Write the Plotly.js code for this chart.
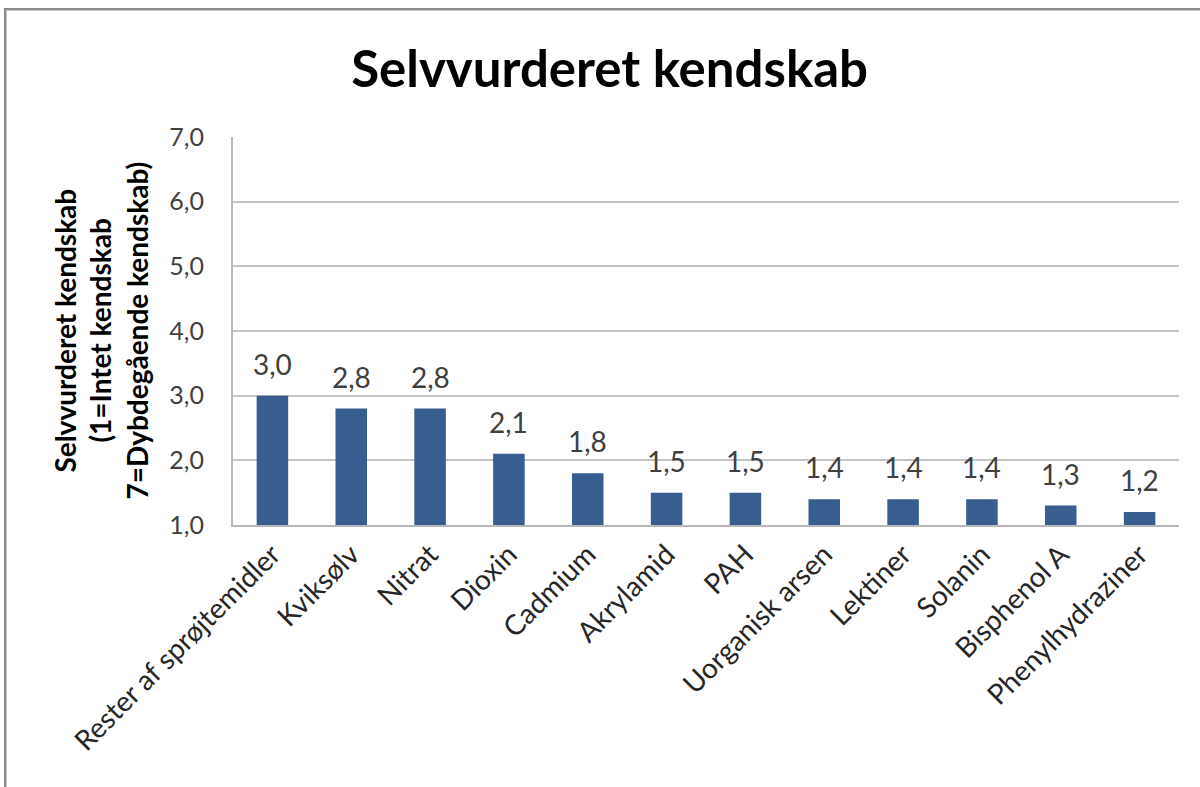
<!DOCTYPE html>
<html>
<head>
<meta charset="utf-8">
<script src="https://cdn.plot.ly/plotly-3.0.1.min.js"></script>
<style>
  html, body { margin: 0; padding: 0; background: #ffffff; }
  #wrap { position: relative; width: 1200px; height: 787px; overflow: hidden; }
  #chart { position: absolute; left: 0; top: 0; width: 1200px; height: 787px; }
  #frame { position: absolute; left: 4px; top: 8px; width: 1400px; height: 1000px;
           border-left: 2px solid #8a8a8a; border-top: 2px solid #8a8a8a;
           box-shadow: inset 1px 1px 0 #c8c8c8; pointer-events: none; }
</style>
</head>
<body>
<div id="wrap">
  <div id="chart"></div>
  <div id="frame"></div>
</div>
<script>
const categories = ["Rester af sprøjtemidler", "Kviksølv", "Nitrat", "Dioxin", "Cadmium",
  "Akrylamid", "PAH", "Uorganisk arsen", "Lektiner", "Solanin", "Bisphenol A", "Phenylhydraziner"];
const values = [3.0, 2.8, 2.8, 2.1, 1.8, 1.5, 1.5, 1.4, 1.4, 1.4, 1.3, 1.2];
const tickValues = [1, 2, 3, 4, 5, 6, 7];
const chartTitle = "Selvvurderet kendskab";
const yTitleLines = ["Selvvurderet kendskab", "(1=Intet kendskab", "7=Dybdegående kendskab)"];

const FONT = "Lato, 'Liberation Sans', Arial, sans-serif";
const barColor = "#375e8f";

const trace = {
  type: "bar",
  x: categories,
  y: values,
  marker: { color: barColor, line: { width: 0 } },
  hoverinfo: "skip"
};

const labelAnnotations = categories.map((c, i) => ({
  x: c, y: values[i], xref: "x", yref: "y",
  text: values[i].toFixed(1).replace(".", ","),
  showarrow: false, yanchor: "bottom", yshift: 13,
  font: { family: FONT, size: 28, color: "#404040" }
}));

const yTitleX = [-0.178, -0.141, -0.102];
const yTitleAnnotations = yTitleLines.map((t, i) => ({
  xref: "paper", yref: "paper", x: yTitleX[i], y: 0.5,
  xanchor: "center", yanchor: "middle", textangle: -90,
  text: "<b>" + t + "</b>", showarrow: false,
  font: { family: FONT, size: 28, color: "#000000" }
}));

const layout = {
  width: 1200, height: 787,
  paper_bgcolor: "#ffffff", plot_bgcolor: "#ffffff",
  separators: ", ",
  margin: { l: 233, r: 21, t: 137, b: 262 },
  showlegend: false,
  bargap: 0.6,
  title: {
    text: "<b>" + chartTitle + "</b>",
    xref: "container", yref: "container", x: 0.508, y: 0.912,
    xanchor: "center", yanchor: "middle",
    font: { family: FONT, size: 51, color: "#000000" }
  },
  xaxis: {
    type: "category",
    tickangle: -45,
    tickfont: { family: FONT, size: 28, color: "#262626" },
    showline: true, linecolor: "#b8b8b8", linewidth: 2,
    ticks: "", showgrid: false, zeroline: false,
    automargin: false
  },
  yaxis: {
    range: [1, 7],
    tickvals: tickValues,
    tickformat: ".1f",
    tickfont: { family: FONT, size: 25, color: "#404040" },
    ticks: "", ticklen: 0,
    ticklabelstandoff: 22,
    showline: true, linecolor: "#b8b8b8", linewidth: 2,
    showgrid: true, gridcolor: "#c4c4c4", gridwidth: 2,
    zeroline: false,
    automargin: false
  },
  annotations: labelAnnotations.concat(yTitleAnnotations)
};

Plotly.newPlot("chart", [trace], layout, { displayModeBar: false, staticPlot: true });
</script>
</body>
</html>
